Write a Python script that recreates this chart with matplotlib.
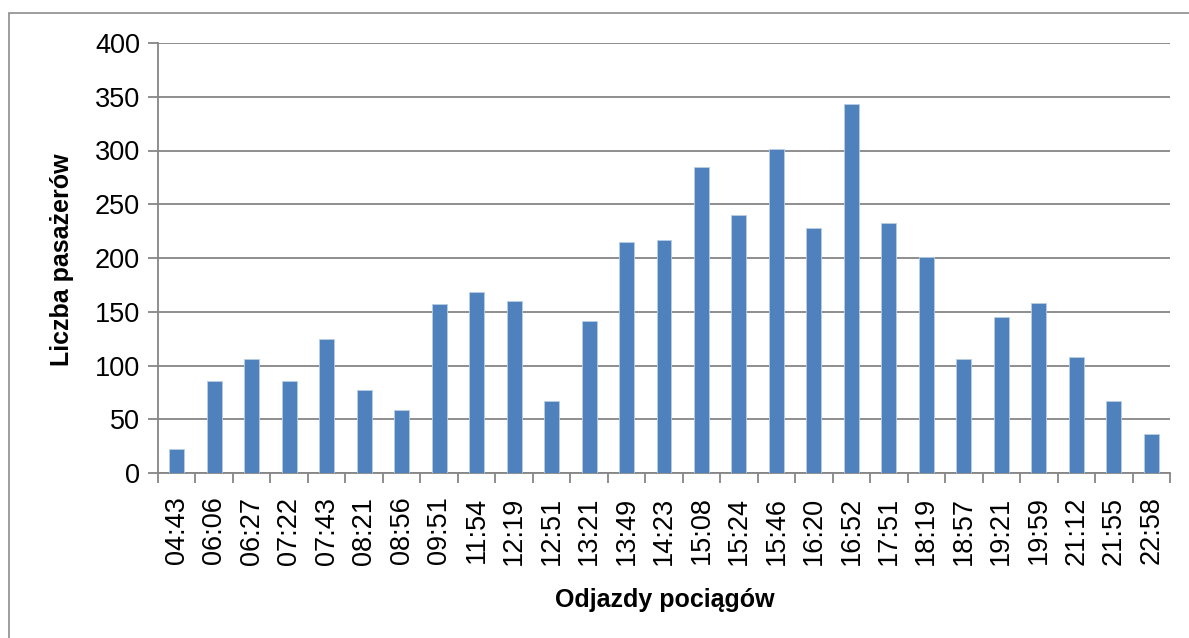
import matplotlib
matplotlib.use("Agg")
import matplotlib.pyplot as plt
from matplotlib.patches import Rectangle

categories = ["04:43", "06:06", "06:27", "07:22", "07:43", "08:21", "08:56", "09:51",
              "11:54", "12:19", "12:51", "13:21", "13:49", "14:23", "15:08", "15:24",
              "15:46", "16:20", "16:52", "17:51", "18:19", "18:57", "19:21", "19:59",
              "21:12", "21:55", "22:58"]
values = [22, 86, 106, 86, 125, 77, 59, 157, 168, 160, 67, 141, 215, 217, 285, 240,
          301, 228, 343, 233, 201, 106, 145, 158, 108, 67, 36]
y_ticks = [0, 50, 100, 150, 200, 250, 300, 350, 400]

plt.rcParams['font.family'] = ['Liberation Sans', 'DejaVu Sans']

fig = plt.figure(figsize=(11.89, 6.38), dpi=100)
# outer chart border
fig.patches.append(Rectangle((8.5 / 1189, -0.05), 1.2, 1 - 12.5 / 638 + 0.05,
                             transform=fig.transFigure, fill=False,
                             edgecolor="#8c8c8c", linewidth=1.2))

ax = fig.add_axes([158 / 1189, 1 - 473 / 638, (1170 - 158) / 1189, (473 - 43) / 638])
x = list(range(len(categories)))
ax.bar(x, values, width=0.4, color="#4F81BD", edgecolor="#B9CDE5", linewidth=0.6, zorder=3)

ax.set_xlim(-0.5, len(categories) - 0.5)
ax.set_ylim(0, 400)
ax.set_yticks(y_ticks)
ax.set_yticklabels([str(v) for v in y_ticks], fontsize=19.5)
ax.set_xticks([i - 0.5 for i in range(len(categories) + 1)], minor=False)
ax.set_xticklabels([])
ax.set_xticks(x, minor=True)
ax.set_xticklabels(categories, minor=True, rotation=90, fontsize=19.5)
ax.tick_params(axis='x', which='minor', length=0, pad=17)
ax.tick_params(axis='x', which='major', length=7, width=1.3, color="#868686", direction='out')
ax.tick_params(axis='y', length=7, width=1.3, color="#868686", direction='out', pad=6)

ax.grid(axis='y', color="#868686", linewidth=1.3, zorder=0)
for s in ["top", "right"]:
    ax.spines[s].set_visible(False)
for s in ["left", "bottom"]:
    ax.spines[s].set_color("#868686")
    ax.spines[s].set_linewidth(1.3)

fig.text(665 / 1189, 1 - 600 / 638, "Odjazdy pociągów", ha="center", va="center",
         fontsize=18, fontweight="bold")
fig.text(62 / 1189, 1 - 260 / 638, "Liczba pasażerów", ha="center", va="center",
         fontsize=18, fontweight="bold", rotation=90)

fig.savefig("out.png", dpi=100)
